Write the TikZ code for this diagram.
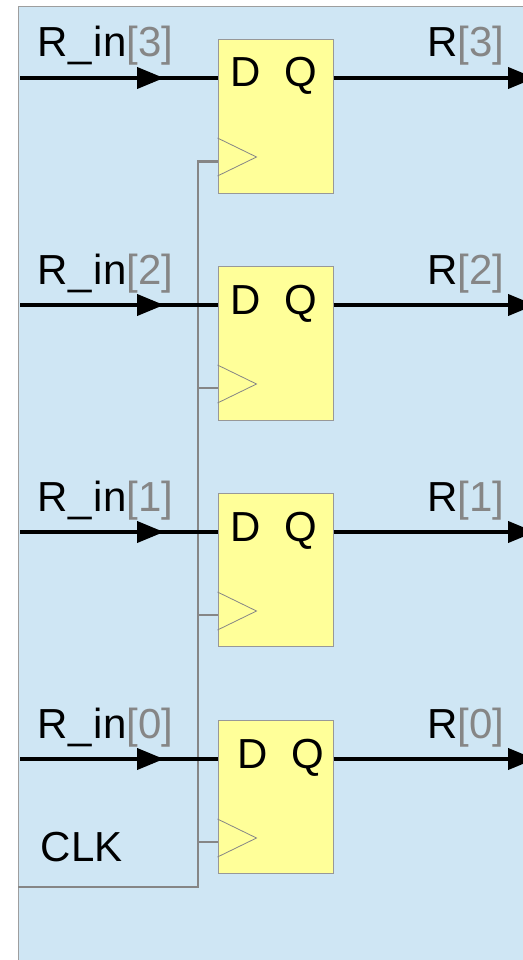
\documentclass[tikz,border=0pt]{standalone}
\usepackage{fontspec}
\setmainfont{Liberation Sans}
\usetikzlibrary{arrows.meta}
\definecolor{panelblue}{HTML}{CFE6F4}
\definecolor{ffyellow}{HTML}{FFFF99}
\definecolor{wiregray}{HTML}{868686}
\newcommand{\idx}[1]{{\color{wiregray}[#1]}}
\newcommand{\rin}{R\kern1pt\_\kern1.5pt in}
\tikzset{
  ffbox/.style={draw=wiregray!85, fill=ffyellow, line width=1pt, minimum width=115pt, minimum height=153pt, inner sep=0pt},
  pinlabel/.style={font=\fontsize{42}{42}\selectfont, inner sep=0pt, anchor=base west},
  datawire/.style={line width=4pt, black},
  dataarrow/.style={datawire, -{Triangle[length=27pt,width=21pt]}, shorten >=-1pt},
  clkwire/.style={line width=2.7pt, wiregray},
  clktri/.style={line width=0.8pt, wiregray}
}
\begin{document}
\begin{tikzpicture}[x=1pt,y=-1pt]
\useasboundingbox (0,0) rectangle (522,960);
\draw[draw=wiregray!80, fill=panelblue, line width=1.5pt] (18.5,6.5) rectangle (540,980);
% flip-flops
\node[ffbox] (ff3) at (275.5,116.5) {};
\node[ffbox, minimum height=154pt] (ff2) at (275.5,343.5) {};
\node[ffbox] (ff1) at (275.5,570) {};
\node[ffbox] (ff0) at (275.5,797) {};
\node[pinlabel] (d3) at (230,87) {D};
\node[pinlabel] (q3) at (284,87) {Q};
\node[pinlabel] (d2) at (230,314) {D};
\node[pinlabel] (q2) at (284,314) {Q};
\node[pinlabel] (d1) at (230,541) {D};
\node[pinlabel] (q1) at (284,541) {Q};
\node[pinlabel] (d0) at (237,768) {D};
\node[pinlabel] (q0) at (291,768) {Q};
% labels
\node[pinlabel] (rin3) at (37.5,57) {\rin\idx{3}};
\node[pinlabel] (rin2) at (37.5,284) {\rin\idx{2}};
\node[pinlabel] (rin1) at (37.5,511) {\rin\idx{1}};
\node[pinlabel] (rin0) at (37.5,738) {\rin\idx{0}};
\node[pinlabel] (r3) at (427,57) {R\idx{3}};
\node[pinlabel] (r2) at (427,284) {R\idx{2}};
\node[pinlabel] (r1) at (427,511) {R\idx{1}};
\node[pinlabel] (r0) at (427,738) {R\idx{0}};
\node[pinlabel] (clk) at (40.5,861) {CLK};
% wire ends
\coordinate (in3) at (20,78);
\coordinate (in2) at (20,305);
\coordinate (in1) at (20,532);
\coordinate (in0) at (20,759);
\coordinate (tip3) at (163,78);
\coordinate (tip2) at (163,305);
\coordinate (tip1) at (163,532);
\coordinate (tip0) at (163,759);
\coordinate (out3) at (534,78);
\coordinate (out2) at (534,305);
\coordinate (out1) at (534,532);
\coordinate (out0) at (534,759);
\coordinate (clkin) at (18,887);
\coordinate (clkbus) at (198,887);
\coordinate (clktop) at (198,161.3);
% clock
\draw[clkwire, line join=miter] (clkin) -- (clkbus) -- (clktop) -- (clktop -| ff3.west);
\draw[clkwire] (clkbus |- 0,388) -- (ff2.west |- 0,388);
\draw[clkwire] (clkbus |- 0,615) -- (ff1.west |- 0,615);
\draw[clkwire] (clkbus |- 0,842) -- (ff0.west |- 0,842);
\draw[clktri] (ff3.west)+(0,21.5) -- +(39,40.5) -- +(0,59.5);
\draw[clktri] (ff2.west)+(0,21.5) -- +(39,40.5) -- +(0,59.5);
\draw[clktri] (ff1.west)+(0,22) -- +(39,41) -- +(0,60);
\draw[clktri] (ff0.west)+(0,22) -- +(39,41) -- +(0,60);
% data in
\draw[datawire] (in3) -- (ff3.west |- in3);
\draw[datawire] (in2) -- (ff2.west |- in2);
\draw[datawire] (in1) -- (ff1.west |- in1);
\draw[datawire] (in0) -- (ff0.west |- in0);
\draw[dataarrow] (in3) -- (tip3);
\draw[dataarrow] (in2) -- (tip2);
\draw[dataarrow] (in1) -- (tip1);
\draw[dataarrow] (in0) -- (tip0);
% data out
\draw[dataarrow] (ff3.east |- out3) -- (out3);
\draw[dataarrow] (ff2.east |- out2) -- (out2);
\draw[dataarrow] (ff1.east |- out1) -- (out1);
\draw[dataarrow] (ff0.east |- out0) -- (out0);
\end{tikzpicture}
\end{document}
